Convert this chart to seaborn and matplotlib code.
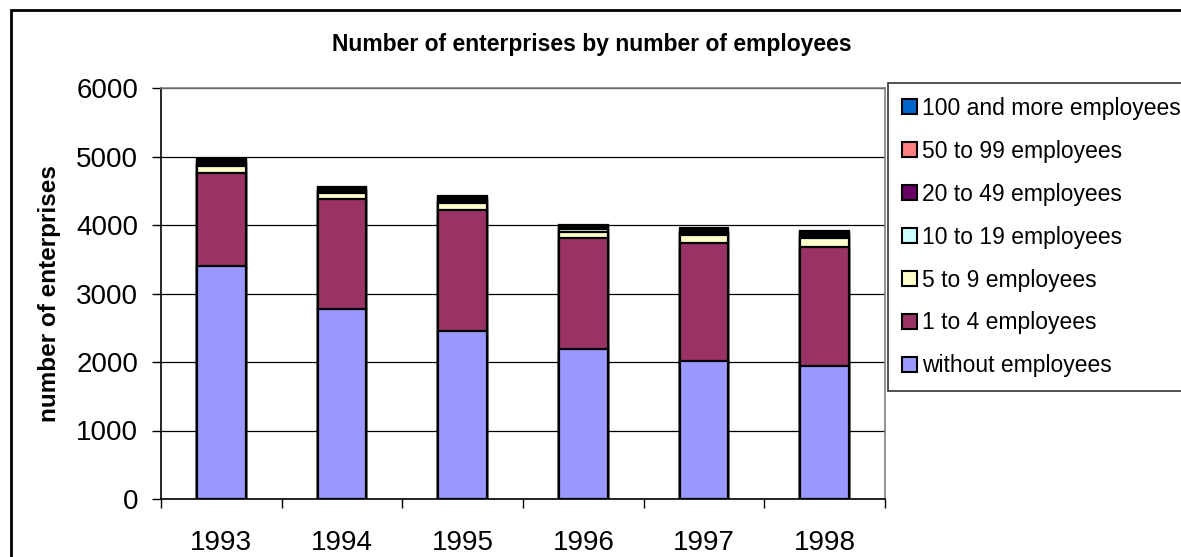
import matplotlib
matplotlib.use('Agg')
import matplotlib.pyplot as plt
import seaborn as sns
from matplotlib.patches import Patch, Rectangle
from matplotlib.ticker import FixedLocator

years = ['1993', '1994', '1995', '1996', '1997', '1998']

without_employees = [3400, 2780, 2450, 2190, 2015, 1940]
emp_1_4 = [1360, 1600, 1770, 1620, 1720, 1740]
emp_5_9 = [100, 90, 100, 90, 115, 130]
emp_10_19 = [35, 30, 35, 35, 35, 35]
emp_20_49 = [30, 28, 30, 30, 30, 30]
emp_50_99 = [20, 17, 20, 20, 20, 20]
emp_100_plus = [15, 13, 15, 15, 15, 15]

labels = ['without employees', '1 to 4 employees', '5 to 9 employees', '10 to 19 employees',
          '20 to 49 employees', '50 to 99 employees', '100 and more employees']
colors = ['#9999FF', '#993366', '#FFFFCC', '#CCFFFF', '#660066', '#FF8080', '#0066CC']
series = [without_employees, emp_1_4, emp_5_9, emp_10_19, emp_20_49, emp_50_99, emp_100_plus]

sns.set_style('white')
plt.rcParams['font.family'] = ['Liberation Sans', 'DejaVu Sans']
plt.rcParams['text.color'] = 'black'
plt.rcParams['xtick.color'] = 'black'
plt.rcParams['ytick.color'] = 'black'
plt.rcParams['axes.labelcolor'] = 'black'

fig = plt.figure(figsize=(11.81, 5.57), dpi=100)
ax = fig.add_axes([161 / 1181, 1 - 499 / 557, 724 / 1181, 411 / 557])

# cumulative totals, drawn tallest first so the lower segments sit on top
cums = []
running = [0] * len(years)
for s in series:
    running = [a + b for a, b in zip(running, s)]
    cums.append(list(running))

for cum, col in reversed(list(zip(cums, colors))):
    sns.barplot(x=years, y=cum, order=years, color=col, saturation=1, edgecolor='black',
                linewidth=1.6, width=0.405, errorbar=None, ax=ax, zorder=3)

ax.set_xlim(-0.5, 5.5)
ax.set_ylim(0, 6000)
ax.set_yticks(range(0, 6001, 1000))
ax.set_xlabel('')
ax.set_ylabel('number of enterprises', fontsize=17.5, fontweight='bold')
ax.yaxis.set_label_coords(-0.1375, 0.5)

ax.grid(axis='y', color='black', linewidth=0.9)
ax.grid(axis='x', visible=False)
ax.set_axisbelow(True)

for side in ['top', 'right']:
    ax.spines[side].set_color('#808080')
    ax.spines[side].set_linewidth(1.2)
for side in ['left', 'bottom']:
    ax.spines[side].set_color('black')
    ax.spines[side].set_linewidth(1.2)

ax.tick_params(axis='y', which='major', left=True, length=6.5, width=1, color='black',
               labelsize=20, pad=10)
ax.tick_params(axis='x', which='major', bottom=True, length=0, labelsize=20, pad=22)
ax.xaxis.set_minor_locator(FixedLocator([i - 0.5 for i in range(len(years) + 1)]))
ax.tick_params(axis='x', which='minor', bottom=True, length=6.5, width=1, color='black')

fig.text(0.5015, 1 - 45 / 557, 'Number of enterprises by number of employees',
         fontsize=16.5, fontweight='bold', ha='center', va='center')

handles = [Patch(facecolor=c, edgecolor='black', linewidth=1.5, label=l)
           for c, l in zip(colors, labels)]
leg = fig.legend(handles=handles[::-1], loc='upper left', bbox_to_anchor=(888 / 1181, 1 - 83 / 557),
                 frameon=True, fancybox=False, edgecolor='black', fontsize=16.5,
                 borderaxespad=0, borderpad=0.6, handlelength=0.65, handleheight=0.65,
                 handletextpad=0.25, labelspacing=0.87)
leg.get_frame().set_linewidth(1.2)

fig.add_artist(Rectangle((11 / 1181, -0.1), 1.2, 1 - 10 / 557 + 0.1, transform=fig.transFigure,
                         fill=False, linewidth=2, edgecolor='black'))

fig.savefig('out.png', dpi=100)
